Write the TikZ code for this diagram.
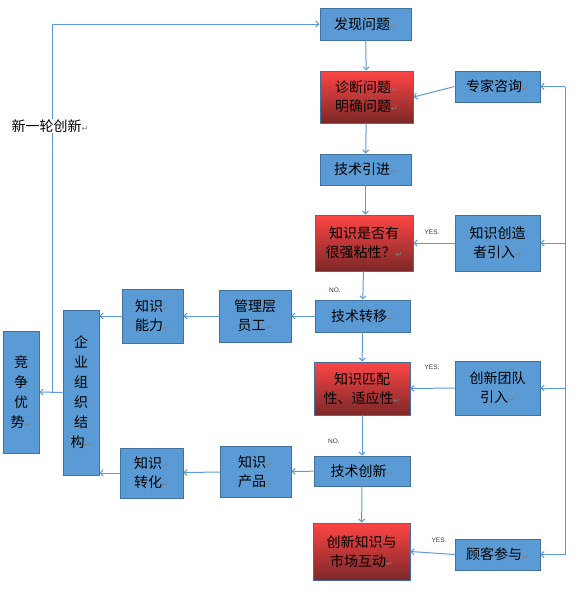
\documentclass[tikz,border=0pt]{standalone}
\usepackage{fontspec}
\setmainfont{Noto Sans CJK SC}
\newfontfamily\dejavu{DejaVu Sans}
\newfontfamily\labfont{Liberation Sans}
\usetikzlibrary{arrows.meta}
\definecolor{boxblue}{HTML}{5B9BD5}
\definecolor{boxedge}{HTML}{41719C}
\definecolor{linec}{HTML}{5B9BD5}
\definecolor{redtop}{HTML}{FF4545}
\definecolor{redbot}{HTML}{7C2828}
\newcommand{\rmark}{{\color{gray}\dejavu\fontsize{8}{8}\selectfont ↵}}
\tikzset{
  base/.style={rectangle, draw=boxedge, line width=0.9pt, inner sep=0pt, align=center,
    font=\fontsize{14}{19}\selectfont, text=black},
  bluebox/.style={base, fill=boxblue},
  redbox/.style={base, top color=redtop, bottom color=redbot},
  conn/.style={draw=linec, line width=1pt},
  arr/.style={conn, -{Straight Barb[length=3pt,width=6pt]}},
  yn/.style={font=\labfont\fontsize{6.5}{7}\selectfont, text=black!80, inner sep=0pt},
}
\begin{document}
\begin{tikzpicture}[x=1pt,y=-1pt]
\useasboundingbox (0,0) rectangle (578,600);
% nodes
\node[bluebox, minimum width=91, minimum height=32] (fx) at (365.5,24) {发现问题\rmark};
\node[redbox, minimum width=93, minimum height=52] (zd) at (366.5,97) {诊断问题\rmark\\明确问题\rmark};
\node[bluebox, minimum width=85, minimum height=31] (zj) at (497.5,86.5) {专家咨询\rmark};
\node[bluebox, minimum width=91, minimum height=31] (jy) at (365.5,169.5) {技术引进\rmark};
\node[redbox, minimum width=98, minimum height=56] (zn) at (364,243) {知识是否有\\很强粘性？\rmark};
\node[bluebox, minimum width=85, minimum height=56] (cz) at (497.5,243) {知识创造\\者引入\rmark};
\node[bluebox, minimum width=95, minimum height=32] (zy) at (362.5,316) {技术转移\rmark};
\node[bluebox, minimum width=72, minimum height=52] (gl) at (255,316) {管理层\\员工\rmark};
\node[bluebox, minimum width=61, minimum height=54] (nl) at (152.5,316) {知识\rmark\\能力\rmark};
\node[bluebox, minimum width=36, minimum height=165, font=\fontsize{14}{20}\selectfont] (zz) at (81,392.5) {企\\业\\组\\织\\结\\构\rmark};
\node[bluebox, minimum width=36, minimum height=122, font=\fontsize{14}{20}\selectfont] (jz) at (21,392) {竞\\争\\优\\势\rmark};
\node[redbox, minimum width=96, minimum height=53] (pp) at (362,388.5) {知识匹配\\性、适应性\rmark};
\node[bluebox, minimum width=85, minimum height=54] (td) at (497.5,388) {创新团队\\引入\rmark};
\node[bluebox, minimum width=96, minimum height=30] (cx) at (362,471) {技术创新\rmark};
\node[bluebox, minimum width=71, minimum height=51] (cp) at (255.5,471.5) {知识\rmark\\产品\rmark};
\node[bluebox, minimum width=63, minimum height=50] (zh) at (151.5,473) {知识\rmark\\转化\rmark};
\node[redbox, minimum width=97, minimum height=57] (hd) at (361.5,551.5) {创新知识与\\市场互动\rmark};
\node[bluebox, minimum width=85, minimum height=31] (gk) at (497.5,554.5) {顾客参与\rmark};
% main chain
\draw[arr] (fx) -- (zd);
\draw[arr] (zj.west) -- (zd.east);
\draw[arr] (zd) -- (jy);
\draw[arr] (jy) -- (zn.north -| jy);
\draw[arr] (cz.west) -- (zn.east);
\draw[arr] (zn) -- (zy);
\draw[arr] (zy) -- (gl);
\draw[arr] (gl) -- (nl);
\draw[arr] (nl.west) -- (nl.west -| zz.east);
\draw[arr] (zy) -- (pp);
\draw[arr] (td.west) -- (pp.east);
\draw[arr] (pp) -- (cx);
\draw[arr] (cx) -- (cp);
\draw[arr] (cp) -- (zh);
\draw[arr] (zh.west) -- (zh.west -| zz.east);
\draw[arr] (cx) -- (hd);
\draw[arr] (gk.west) -- (hd.east);
\draw[arr] (zz.west) -- (jz.east);
% right feedback line
\coordinate (rt) at (565,86.5);
\coordinate (rb) at (565,554.5);
\draw[conn] (rt) -- (rb);
\draw[arr] (rt) -- (zj.east);
\draw[arr] (cz.east -| rt) -- (cz.east);
\draw[arr] (td.east -| rt) -- (td.east);
\draw[arr] (rb) -- (gk.east);
% left loop
\coordinate (lb) at (52,392);
\coordinate (lt) at (52,24);
\draw[arr] (lb) -- (lt) -- (fx.west);
\node[fill=white, inner sep=1pt, font=\fontsize{14}{14}\selectfont] (xl) at (50,126) {新一轮创新\rmark};
% labels
\node[yn] (y1) at (432,232) {YES.};
\node[yn] (n1) at (335,290) {NO.};
\node[yn] (y2) at (432,367) {YES.};
\node[yn] (n2) at (334,441) {NO.};
\node[yn] (y3) at (439,540) {YES.};
\end{tikzpicture}
\end{document}
